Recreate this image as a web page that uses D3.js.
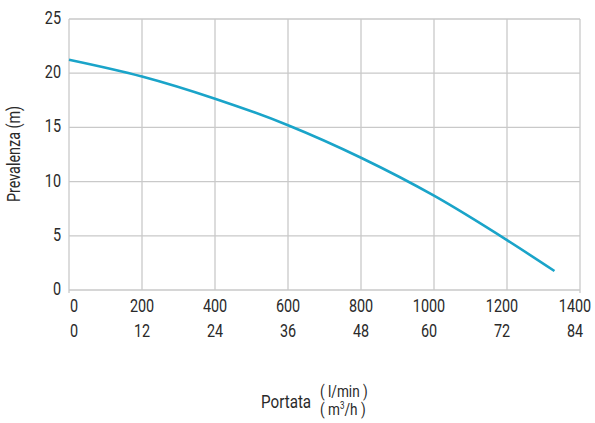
<!DOCTYPE html>
<html><head><meta charset="utf-8">
<script src="https://cdn.jsdelivr.net/npm/d3@7"></script>
<style>body{margin:0;background:#fff}text{font-family:Roboto,"Liberation Sans",sans-serif;fill:#2a2a2a}</style>
</head><body><svg id="c" width="595" height="423"></svg>
<script>
const flowLmin = [0, 200, 400, 600, 800, 1000, 1200, 1330];
const head = [21.25, 19.7, 17.65, 15.2, 12.2, 8.7, 4.6, 1.75];
const xTicks = [0, 200, 400, 600, 800, 1000, 1200, 1400];
const xTicks2 = ["0", "12", "24", "36", "48", "60", "72", "84"];
const yTicks = [0, 5, 10, 15, 20, 25];

const svg = d3.select("#c");
const x = d3.scaleLinear().domain([0, 1400]).range([69, 580]);
const y = d3.scaleLinear().domain([0, 25]).range([290, 19]);
const grid = "#c9c9c9";
const fs = 18;
const sx = 0.8;

svg.append("g").selectAll("line").data(xTicks).join("line")
  .attr("x1", d => x(d)).attr("x2", d => x(d))
  .attr("y1", y(25)).attr("y2", (d,i) => (i===0||i===xTicks.length-1) ? 293 : y(0))
  .attr("stroke", grid).attr("stroke-width", 1.3);
svg.append("g").selectAll("line").data(yTicks).join("line")
  .attr("x1", x(0)).attr("x2", x(1400))
  .attr("y1", d => y(d)).attr("y2", d => y(d))
  .attr("stroke", grid).attr("stroke-width", 1.3);

svg.append("g").selectAll("text").data(yTicks).join("text")
  .attr("transform", d => `translate(61,${y(d) + 5}) scale(${sx},1)`).attr("text-anchor", "end")
  .attr("font-size", fs).text(d => d);

const dx = (d,i) => i===0 ? 5 : (d >= 1000 ? -5 : 0);
svg.append("g").selectAll("text").data(xTicks).join("text")
  .attr("transform", (d,i) => `translate(${x(d) + dx(d,i)},312) scale(${sx},1)`).attr("text-anchor", "middle")
  .attr("font-size", fs).text(d => d);
svg.append("g").selectAll("text").data(xTicks2).join("text")
  .attr("transform", (d,i) => `translate(${x(xTicks[i]) + dx(xTicks[i],i)},337) scale(${sx},1)`).attr("text-anchor", "middle")
  .attr("font-size", fs).text(d => d);

svg.append("text").attr("transform", `translate(20,154) rotate(-90) scale(${sx},1)`)
  .attr("text-anchor", "middle").attr("font-size", fs).text("Prevalenza (m)");

svg.append("text").attr("transform", `translate(261,408) scale(${sx},1)`).attr("font-size", 19).text("Portata");
svg.append("text").attr("transform", `translate(320,397) scale(${sx},1)`).attr("font-size", 17).text("( l/min )");
const t2 = svg.append("text").attr("transform", `translate(320,415) scale(${sx},1)`).attr("font-size", 17);
t2.append("tspan").text("( m");
t2.append("tspan").attr("font-size", 10).attr("dy", -6).text("3");
t2.append("tspan").attr("dy", 6).text("/h )");

const line = d3.line().x((d,i) => x(flowLmin[i])).y(d => y(d)).curve(d3.curveMonotoneX);
svg.append("path").datum(head).attr("d", line)
  .attr("fill", "none").attr("stroke", "#1aa4c9").attr("stroke-width", 2.6);
</script></body></html>
